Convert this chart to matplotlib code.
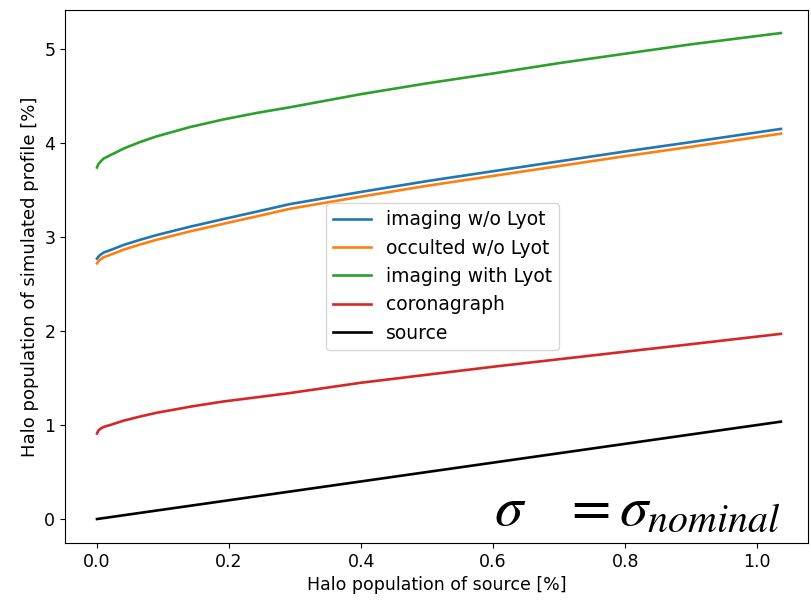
import matplotlib
matplotlib.use('Agg')
import matplotlib.pyplot as plt

# Halo population of the source [%]
x = [0.0, 0.002, 0.005, 0.01, 0.02, 0.04, 0.065, 0.09, 0.141, 0.191, 0.242, 0.292,
     0.4, 0.5, 0.6, 0.7, 0.8, 0.9, 1.036]

# Halo population of the simulated profile [%]
imaging_no_lyot = [2.77, 2.79, 2.81, 2.835, 2.86, 2.915, 2.97, 3.02, 3.11, 3.19, 3.27, 3.35,
                   3.48, 3.595, 3.70, 3.805, 3.91, 4.01, 4.15]
occulted_no_lyot = [2.72, 2.74, 2.76, 2.785, 2.81, 2.865, 2.92, 2.97, 3.06, 3.14, 3.22, 3.30,
                    3.43, 3.545, 3.65, 3.755, 3.86, 3.96, 4.10]
imaging_lyot = [3.74, 3.775, 3.80, 3.835, 3.87, 3.94, 4.01, 4.07, 4.17, 4.25, 4.32, 4.38,
                4.52, 4.635, 4.74, 4.85, 4.95, 5.05, 5.17]
coronagraph = [0.91, 0.94, 0.96, 0.98, 1.0, 1.046, 1.09, 1.13, 1.195, 1.25, 1.295, 1.34,
               1.45, 1.535, 1.62, 1.70, 1.78, 1.86, 1.97]
source = [0.0, 0.002, 0.005, 0.01, 0.02, 0.04, 0.065, 0.09, 0.141, 0.191, 0.242, 0.292,
          0.4, 0.5, 0.6, 0.7, 0.8, 0.9, 1.036]

series = [
    ('imaging w/o Lyot', imaging_no_lyot, 'tab:blue'),
    ('occulted w/o Lyot', occulted_no_lyot, 'tab:orange'),
    ('imaging with Lyot', imaging_lyot, 'tab:green'),
    ('coronagraph', coronagraph, 'tab:red'),
    ('source', source, 'black'),
]

plt.rcParams['mathtext.fontset'] = 'stix'

fig = plt.figure(figsize=(8.11, 6.02), dpi=100)
ax = fig.add_axes([65 / 811, 59 / 602, 743 / 811, 533 / 602])

for label, y, color in series:
    ax.plot(x, y, color=color, lw=1.9, label=label)

ax.set_xlim(-0.0485, 1.077)
ax.set_ylim(-0.255, 5.415)
ax.tick_params(labelsize=12.5)
ax.set_xlabel('Halo population of source [%]', fontsize=12.5)
ax.set_ylabel('Halo population of simulated profile [%]', fontsize=13)

ax.legend(loc='center left', bbox_to_anchor=(0.351, 0.5), borderaxespad=0,
          fontsize=13.5, handlelength=2.0)

ax.text(0.963, 0.012, r'$\sigma\quad = \sigma_{nominal}$', transform=ax.transAxes,
        ha='right', va='bottom', fontsize=41)

fig.savefig('out.png', dpi=100)
